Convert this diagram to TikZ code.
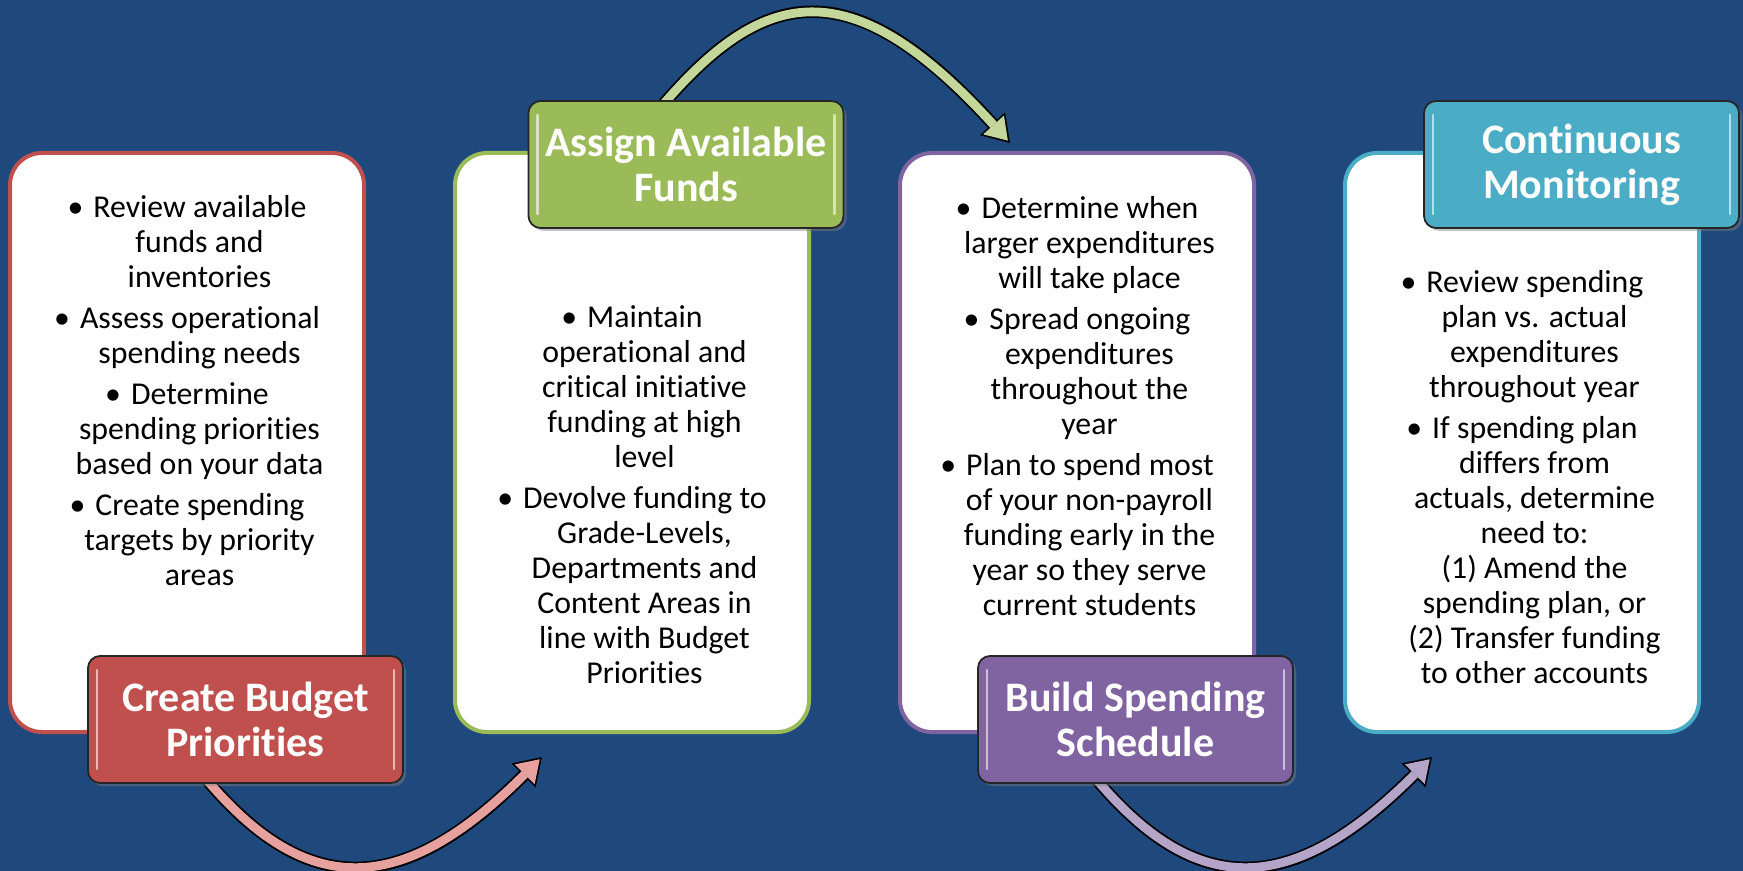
\documentclass[tikz,border=0pt]{standalone}
\usepackage{fontspec}
\setmainfont{Carlito}[Ligatures=NoCommon]
\usetikzlibrary{arrows.meta,shadows}

\definecolor{slidebg}{RGB}{31,73,125}
\definecolor{budgetred}{RGB}{192,80,77}
\definecolor{fundsgreen}{RGB}{155,187,89}
\definecolor{schedpurple}{RGB}{128,100,162}
\definecolor{monitorteal}{RGB}{75,172,198}
\definecolor{redflow}{RGB}{230,160,158}
\definecolor{greenflow}{RGB}{196,215,155}
\definecolor{purpleflow}{RGB}{180,164,200}

\pgfdeclarelayer{bg}
\pgfdeclarelayer{curves}
\pgfsetlayers{bg,curves,main}

% bullet and wrapped line inside the panels
\newcommand{\bulitem}{\textbullet\hspace{5pt}}
\newcommand{\contline}{\hspace*{12.5pt}}

\tikzset{every picture/.style={line width=0.75pt}}
\tikzset{
  panel/.style={draw=#1, line width=2pt, fill=white, rounded corners=16pt,
    minimum width=177pt, minimum height=289.5pt},
  titlebox/.style={draw=black!85, line width=0.9pt, fill=#1, rounded corners=6pt,
    minimum width=157.5pt, minimum height=63.5pt, text=white, align=center,
    font=\fontsize{21}{22.5}\selectfont\bfseries,
    drop shadow={opacity=0.45, shadow xshift=1.5pt, shadow yshift=-1.5pt},
    path picture={
      \draw[white, opacity=0.6, line width=1.3pt, line cap=round]
        ([xshift=4.5pt,yshift=-7pt]path picture bounding box.north west) --
        ([xshift=4.5pt,yshift=7pt]path picture bounding box.south west)
        ([xshift=-4.5pt,yshift=-7pt]path picture bounding box.north east) --
        ([xshift=-4.5pt,yshift=7pt]path picture bounding box.south east);
    }},
  % anchored on the baseline of the last line
  itemtext/.style={align=center, anchor=base, text=black,
    font=\fontsize{15.9}{17.5}\selectfont},
  flow/.style={draw=#1, line width=4.4pt,
    -{Triangle[length=10.6pt,width=14pt,line width=0pt]}, shorten >=1.6pt,
    preaction={draw=black, line width=6.2pt,
      -{Triangle[length=13pt,width=17pt,line width=0pt]}, shorten >=0pt}}
}

\begin{document}
\begin{tikzpicture}[x=0.5pt,y=-0.5pt]
	\useasboundingbox (0,0) rectangle (1743,871);
	\begin{pgfonlayer}{bg}
		\fill[slidebg] (0,0) rectangle (1743,871);
	\end{pgfonlayer}

	%Shape: Rounded Rect panels
	\node[panel=budgetred] (p1) at (187,442.5) {};
	\node[panel=fundsgreen] (p2) at (632,442.5) {};
	\node[panel=schedpurple] (p3) at (1077,442.5) {};
	\node[panel=monitorteal] (p4) at (1522,442.5) {};

	% Text Node
	\node[itemtext] (t1) at (187,585) {\bulitem Review available\\
		\contline funds and\\
		\contline inventories\\[3pt]
		\bulitem Assess operational\\
		\contline spending needs\\[3pt]
		\bulitem Determine\\
		\contline spending priorities\\
		\contline based on your data\\[3pt]
		\bulitem Create spending\\
		\contline targets by priority\\
		\contline areas};
	% Text Node
	\node[itemtext] (t2) at (632,683) {\bulitem Maintain\\
		\contline operational and\\
		\contline critical initiative\\
		\contline funding at high\\
		\contline level\\[3pt]
		\bulitem Devolve funding to\\
		\contline Grade-Levels,\\
		\contline Departments and\\
		\contline Content Areas in\\
		\contline line with Budget\\
		\contline Priorities};
	% Text Node
	\node[itemtext] (t3) at (1077,615) {\bulitem Determine when\\
		\contline larger expenditures\\
		\contline will take place\\[3pt]
		\bulitem Spread ongoing\\
		\contline expenditures\\
		\contline throughout the\\
		\contline year\\[3pt]
		\bulitem Plan to spend most\\
		\contline of your non-payroll\\
		\contline funding early in the\\
		\contline year so they serve\\
		\contline current students};
	% Text Node
	\node[itemtext] (t4) at (1522,683) {\bulitem Review spending\\
		\contline plan vs. actual\\
		\contline expenditures\\
		\contline throughout year\\[3pt]
		\bulitem If spending plan\\
		\contline differs from\\
		\contline actuals, determine\\
		\contline need to:\\
		\contline (1) Amend the\\
		\contline spending plan, or\\
		\contline (2) Transfer funding\\
		\contline to other accounts};

	%Shape: title boxes
	\node[titlebox=budgetred] (b1) at (245.5,719.5) {Create Budget\\Priorities};
	\node[titlebox=fundsgreen] (b2) at (686,164.5) {Assign Available\\Funds};
	\node[titlebox=schedpurple] (b3) at (1135.5,719.5) {Build Spending\\Schedule};
	\node[titlebox=monitorteal] (b4) at (1581.5,164.5) {Continuous\\Monitoring};

	% arrow ends
	\coordinate (e1) at (542,757);
	\coordinate (e2) at (1010,143);
	\coordinate (e3) at (1432,757);

	%Curve Lines
	\begin{pgfonlayer}{curves}
		\draw[flow=redflow] ([xshift=-21pt,yshift=4pt]b1.south) .. controls (308,902) and (404,895) .. (e1);
		\draw[flow=greenflow] ([xshift=-13pt,yshift=-4pt]b2.north) .. controls (762,-12) and (849,-34) .. (e2);
		\draw[flow=purpleflow] ([xshift=-21pt,yshift=4pt]b3.south) .. controls (1198,902) and (1294,895) .. (e3);
	\end{pgfonlayer}

\end{tikzpicture}
\end{document}
